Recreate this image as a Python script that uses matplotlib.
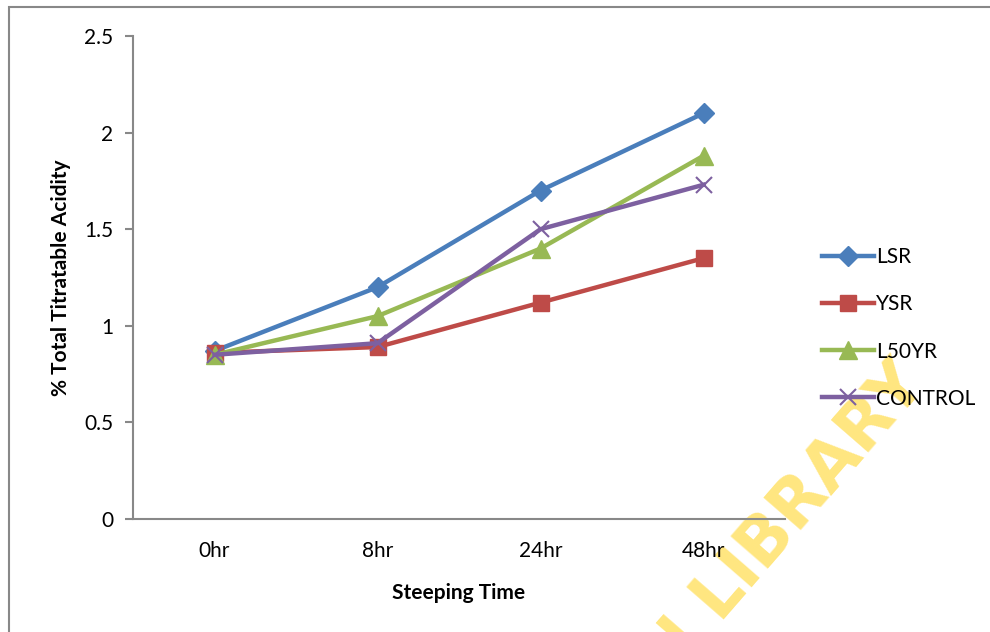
import matplotlib.pyplot as plt
from matplotlib.patches import Rectangle

# Data
times = ['0hr', '8hr', '24hr', '48hr']
lsr = [0.87, 1.20, 1.70, 2.10]
ysr = [0.86, 0.89, 1.12, 1.35]
l50yr = [0.85, 1.05, 1.40, 1.88]
control = [0.85, 0.91, 1.50, 1.73]

plt.rcParams['font.family'] = ['Lato', 'DejaVu Sans']

fig = plt.figure(figsize=(9.9, 6.32), dpi=100)
ax = fig.add_axes([133 / 990, 1 - 519 / 632, 652 / 990, 483 / 632])
ax.set_facecolor('none')

x = range(len(times))
ax.plot(x, lsr, color='#4A7EBB', lw=3.2, marker='D', ms=10.5, label='LSR')
ax.plot(x, ysr, color='#BE4B48', lw=3.2, marker='s', ms=12, label='YSR')
ax.plot(x, l50yr, color='#98B954', lw=3.2, marker='^', ms=12.5, label='L50YR')
ax.plot(x, control, color='#7D60A0', lw=3.2, marker='x', ms=12, mew=1.5, label='CONTROL')

ax.set_xlim(-0.5, 3.5)
ax.set_ylim(0, 2.5)
ax.set_yticks([0, 0.5, 1, 1.5, 2, 2.5])
ax.set_yticklabels(['0', '0.5', '1', '1.5', '2', '2.5'])
ax.set_xticks(list(x))
ax.set_xticklabels(times)
ax.tick_params(axis='x', length=0, pad=16, labelsize=15)
ax.tick_params(axis='y', length=6, width=1.5, color='#888888', pad=8, labelsize=15)

for s in ['top', 'right']:
    ax.spines[s].set_visible(False)
for s in ['left', 'bottom']:
    ax.spines[s].set_color('#888888')
    ax.spines[s].set_linewidth(1.5)

ax.set_xlabel('Steeping Time', fontsize=15, fontweight='bold', labelpad=16)
ax.set_ylabel('% Total Titratable Acidity', fontsize=15, fontweight='bold', labelpad=10)

leg = ax.legend(loc='center left', bbox_to_anchor=(822 / 990, 1 - 328 / 632),
                bbox_transform=fig.transFigure, frameon=False, fontsize=15,
                labelspacing=1.3, handlelength=2.5, handletextpad=0.1, borderaxespad=0,
                borderpad=0)

# chart-area border (extends past the right and bottom edges)
fig.patches.append(Rectangle((9 / 990, -0.1), 1.2, 1 - 7 / 632 + 0.1, transform=fig.transFigure,
                             fill=False, edgecolor='#888888', lw=1.5))

# library watermark, mostly cut off, sits behind the chart
fig.text(928 / 990, 1 - 385 / 632, 'IBADAN LIBRARY', fontsize=48, fontweight='bold',
         family='DejaVu Sans', color='#FFE680', rotation=49,
         rotation_mode='anchor', ha='right', va='baseline', zorder=-1)

fig.savefig('out.png', dpi=100)
